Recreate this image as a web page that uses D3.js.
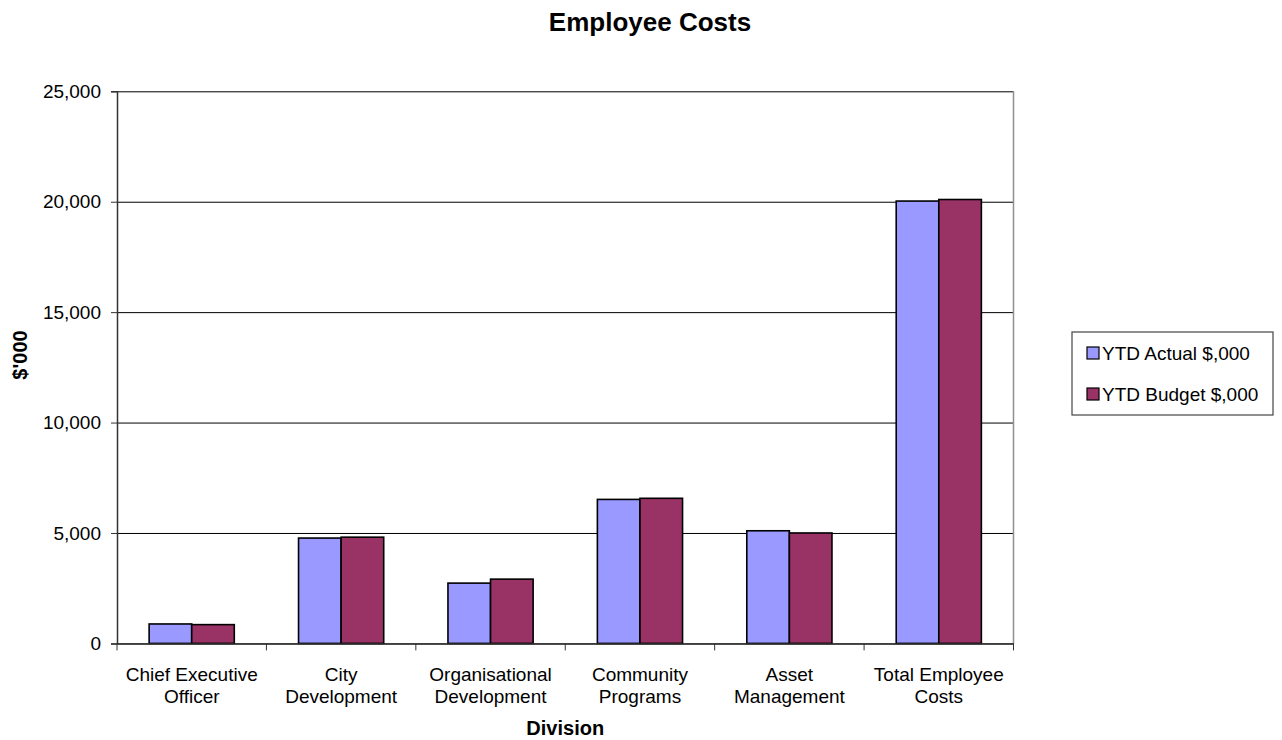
<!DOCTYPE html>
<html>
<head>
<meta charset="utf-8">
<script src="https://cdn.jsdelivr.net/npm/d3@7"></script>
<style>
  html, body { margin: 0; padding: 0; background: #fff; overflow: hidden; }
  svg { display: block; }
  text { font-family: "Liberation Sans", Arial, sans-serif; fill: #000; }
</style>
</head>
<body>
<svg></svg>
<script>
const w = 1282
const h = 740

// data
const categories = ['Chief Executive Officer', 'City Development', 'Organisational Development',
  'Community Programs', 'Asset Management', 'Total Employee Costs']
const categoryLines = [['Chief Executive', 'Officer'], ['City', 'Development'], ['Organisational', 'Development'],
  ['Community', 'Programs'], ['Asset', 'Management'], ['Total Employee', 'Costs']]
const seriesNames = ['YTD Actual $,000', 'YTD Budget $,000']
const actual = [880, 4770, 2730, 6520, 5100, 20030]
const budget = [850, 4810, 2910, 6570, 5000, 20100]
const yTicks = [0, 5000, 10000, 15000, 20000, 25000]
const colors = ['#9999FF', '#993366']

const svg = d3.select('svg')
  .attr('width', w)
  .attr('height', h);

const margin = {top: 91.3, right: 268.5, bottom: 96.6, left: 117};
const innerWidth = w - margin.left - margin.right;
const innerHeight = h - margin.top - margin.bottom;

const data = categories.map((c, i) => ({cat: c, lines: categoryLines[i], values: [actual[i], budget[i]]}));

const x0 = d3.scaleBand()
  .domain(categories)
  .range([0, innerWidth])
  .paddingInner(0.43)
  .paddingOuter(0.215);

const x1 = d3.scaleBand()
  .domain([0, 1])
  .range([0, x0.bandwidth()]);

const y = d3.scaleLinear()
  .domain([0, 25000])
  .range([innerHeight, 0]);

const g = svg.append('g')
  .attr('transform', `translate(${margin.left}, ${margin.top})`);

// gridlines
const grid = g.append('g')
  .call(d3.axisLeft(y).tickValues(yTicks).tickSize(-innerWidth).tickFormat(''));
grid.select('.domain').remove();
grid.selectAll('.tick text').remove();
grid.selectAll('.tick line').attr('stroke', '#000').attr('stroke-width', 1);

// right border of plot area
g.append('line')
  .attr('x1', innerWidth).attr('x2', innerWidth)
  .attr('y1', 0).attr('y2', innerHeight)
  .attr('stroke', '#909090').attr('stroke-width', 1.5);

// bars
const groups = g.selectAll('.grp').data(data)
  .enter().append('g')
  .attr('class', 'grp')
  .attr('transform', d => `translate(${x0(d.cat)}, 0)`);

groups.selectAll('rect').data(d => d.values)
  .enter().append('rect')
  .attr('x', (d, i) => x1(i))
  .attr('y', d => y(d))
  .attr('width', x1.bandwidth())
  .attr('height', d => innerHeight - y(d))
  .attr('fill', (d, i) => colors[i])
  .attr('stroke', '#000')
  .attr('stroke-width', 1.6);

// y axis
const yAxisG = g.append('g')
  .call(d3.axisLeft(y).tickValues(yTicks).tickSize(6).tickPadding(10).tickFormat(d3.format(',')));
yAxisG.select('.domain').attr('stroke', '#333').attr('stroke-width', 1.5);
yAxisG.selectAll('.tick line').attr('stroke', '#333');
yAxisG.selectAll('.tick text').attr('font-size', '19px').attr('fill', '#000');

// x axis: baseline + boundary ticks
const xAxisG = g.append('g')
  .attr('transform', `translate(0, ${innerHeight})`)
  .call(d3.axisBottom(x0).tickSize(0).tickFormat(''));
xAxisG.select('.domain').attr('stroke', '#333').attr('stroke-width', 1.5);
xAxisG.selectAll('.tick text').remove();

const step = x0.step();
xAxisG.selectAll('.bound').data(d3.range(categories.length + 1))
  .enter().append('line')
  .attr('class', 'bound')
  .attr('x1', i => x0.range()[0] + i * step)
  .attr('x2', i => x0.range()[0] + i * step)
  .attr('y1', 0).attr('y2', 7)
  .attr('stroke', '#333');

// category labels (two lines each)
const labels = xAxisG.selectAll('.cat-label').data(data)
  .enter().append('text')
  .attr('class', 'cat-label')
  .attr('text-anchor', 'middle')
  .attr('font-size', '19px')
  .attr('transform', d => `translate(${x0(d.cat) + x0.bandwidth() / 2}, 0)`);

labels.selectAll('tspan').data(d => d.lines)
  .enter().append('tspan')
  .attr('x', 0)
  .attr('y', (d, j) => 37.5 + j * 22)
  .text(d => d);

// axis titles
g.append('text')
  .attr('x', innerWidth / 2)
  .attr('y', innerHeight + 92)
  .attr('text-anchor', 'middle')
  .attr('font-size', '20px')
  .attr('font-weight', 'bold')
  .text('Division');

svg.append('text')
  .attr('transform', `translate(27, 355) rotate(-90)`)
  .attr('text-anchor', 'middle')
  .attr('font-size', '20px')
  .attr('font-weight', 'bold')
  .text("$'000");

// title
svg.append('text')
  .attr('x', 650)
  .attr('y', 31)
  .attr('text-anchor', 'middle')
  .attr('font-size', '26px')
  .attr('font-weight', 'bold')
  .text('Employee Costs');

// legend
const legend = svg.append('g').attr('transform', 'translate(1072, 332)');
legend.append('rect')
  .attr('width', 201).attr('height', 83)
  .attr('fill', '#fff').attr('stroke', '#444').attr('stroke-width', 1.2);

const items = legend.selectAll('.item').data(seriesNames)
  .enter().append('g')
  .attr('class', 'item')
  .attr('transform', (d, i) => `translate(15, ${21 + i * 41})`);

items.append('rect')
  .attr('y', -6).attr('width', 12).attr('height', 12)
  .attr('fill', (d, i) => colors[i])
  .attr('stroke', '#000').attr('stroke-width', 1.2);

items.append('text')
  .attr('x', 15)
  .attr('y', 7)
  .attr('font-size', '19px')
  .text(d => d);
</script>
</body>
</html>
